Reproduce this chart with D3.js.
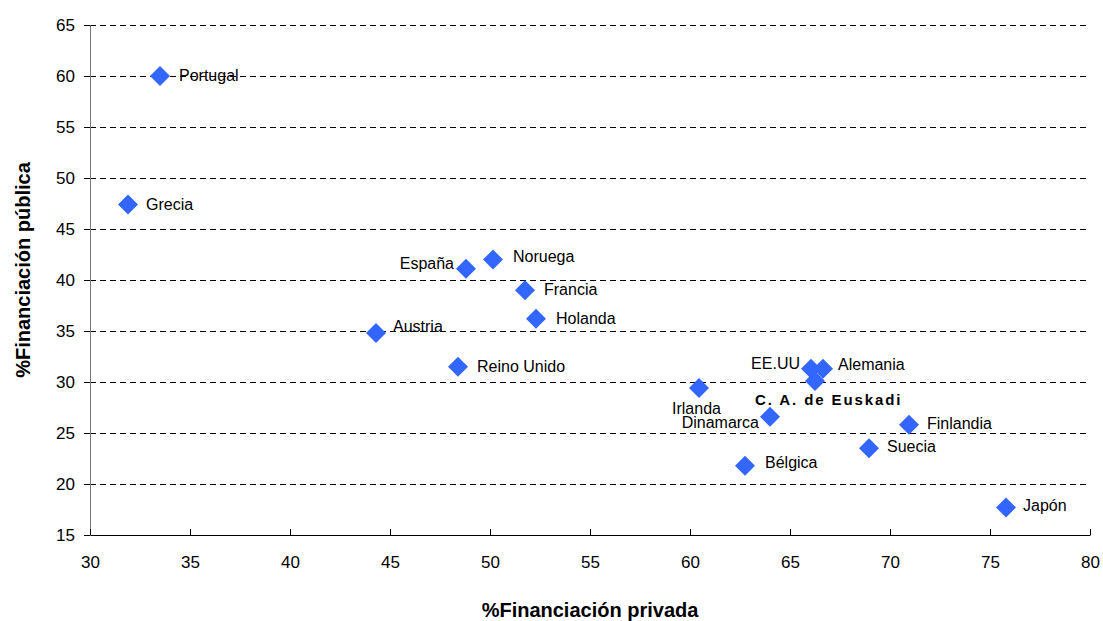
<!DOCTYPE html>
<html>
<head>
<meta charset="utf-8">
<script src="https://d3js.org/d3.v7.min.js"></script>
<style>
  body { margin: 0; background: #fff; }
  svg { font-family: "Liberation Sans", Arial, sans-serif; }
  .grid line { stroke: #000; stroke-dasharray: 6,4; shape-rendering: crispEdges; }
  .axis text { font-size: 17px; fill: #000; }
  .lbl { font-size: 16px; fill: #000; }
  .title { font-size: 20px; font-weight: bold; }
</style>
</head>
<body>
<script>
  var countries = ["Portugal", "Grecia", "España", "Noruega", "Francia", "Holanda", "Austria",
                   "Reino Unido", "Irlanda", "EE.UU", "Alemania", "C. A. de Euskadi",
                   "Dinamarca", "Finlandia", "Suecia", "Bélgica", "Japón"];
  var privada = [33.5, 31.9, 48.8, 50.15, 51.75, 52.3, 44.3, 48.4, 60.45, 66.05, 66.65, 66.25,
                 64.0, 70.95, 68.95, 62.75, 75.8];
  var publica = [60.0, 47.4, 41.1, 42.0, 39.0, 36.2, 34.8, 31.5, 29.4, 31.3, 31.3, 30.1,
                 26.6, 25.8, 23.5, 21.8, 17.7];
  var xTicks = [30, 35, 40, 45, 50, 55, 60, 65, 70, 75, 80];
  var yTicks = [15, 20, 25, 30, 35, 40, 45, 50, 55, 60, 65];

  // label offsets relative to the marker (style only)
  var labelPos = {
    "Portugal": [19, 5, "start"], "Grecia": [18, 5, "start"], "España": [-12, 0, "end"],
    "Noruega": [20, 2, "start"], "Francia": [19, 5, "start"], "Holanda": [20, 5, "start"],
    "Austria": [17, -1, "start"], "Reino Unido": [19, 5, "start"], "Irlanda": [-27, 26, "start"],
    "EE.UU": [-11, 0, "end"], "Alemania": [15, 1, "start"], "C. A. de Euskadi": [-60, 24, "start"],
    "Dinamarca": [-11, 11, "end"], "Finlandia": [18, 4, "start"], "Suecia": [18, 4, "start"],
    "Bélgica": [20, 2, "start"], "Japón": [17, 4, "start"]
  };

  var W = 1103, H = 621;
  var margin = {top: 25, right: 13, bottom: 86, left: 90};

  var svg = d3.select("body").append("svg")
      .attr("width", W)
      .attr("height", H);

  var x = d3.scaleLinear().domain([30, 80]).range([margin.left, W - margin.right]);
  var y = d3.scaleLinear().domain([15, 65]).range([H - margin.bottom, margin.top]);

  // dashed gridlines
  svg.append("g").attr("class", "grid")
    .selectAll("line")
    .data(yTicks.filter(function(d) { return d > 15; }))
    .enter().append("line")
      .attr("x1", x(30)).attr("x2", x(80))
      .attr("y1", function(d) { return y(d); })
      .attr("y2", function(d) { return y(d); });

  // y axis
  var yAxis = svg.append("g").attr("class", "axis")
      .attr("transform", "translate(" + x(30) + ",0)")
      .call(d3.axisLeft(y).tickValues(yTicks).tickSize(6).tickPadding(9));
  yAxis.select(".domain").attr("stroke", "#777");
  yAxis.selectAll(".tick line").attr("stroke", "#000");

  // x axis
  var xAxis = svg.append("g").attr("class", "axis")
      .attr("transform", "translate(0," + y(15) + ")")
      .call(d3.axisBottom(x).tickValues(xTicks).tickSizeInner(-6).tickSizeOuter(0));
  xAxis.select(".domain").attr("stroke", "#000");
  xAxis.selectAll(".tick line").attr("stroke", "#000");
  xAxis.selectAll(".tick text").attr("y", 33).attr("dy", 0);

  var data = countries.map(function(c, i) { return {name: c, px: privada[i], pu: publica[i]}; });

  // markers
  svg.append("g").selectAll("path")
    .data(data)
    .enter().append("path")
      .attr("d", d3.symbol().type(d3.symbolSquare).size(200))
      .attr("fill", "#3366ff")
      .attr("transform", function(d) { return "translate(" + x(d.px) + "," + y(d.pu) + ") rotate(45)"; });

  // labels
  svg.append("g").selectAll("text")
    .data(data)
    .enter().append("text")
      .attr("class", "lbl")
      .attr("x", function(d) { return x(d.px) + labelPos[d.name][0]; })
      .attr("y", function(d) { return y(d.pu) + labelPos[d.name][1]; })
      .attr("text-anchor", function(d) { return labelPos[d.name][2]; })
      .style("font-weight", function(d) { return d.name === "C. A. de Euskadi" ? "bold" : null; })
      .style("font-size", function(d) { return d.name === "C. A. de Euskadi" ? "15px" : null; })
      .style("letter-spacing", function(d) { return d.name === "C. A. de Euskadi" ? "1.9px" : null; })
      .text(function(d) { return d.name; });

  // axis titles
  svg.append("text").attr("class", "title")
      .attr("text-anchor", "middle")
      .attr("x", 590)
      .attr("y", 617)
      .text("%Financiación privada");

  svg.append("text").attr("class", "title")
      .attr("text-anchor", "middle")
      .attr("transform", "translate(30,270) rotate(-90)")
      .text("%Financiación pública");
</script>
</body>
</html>
